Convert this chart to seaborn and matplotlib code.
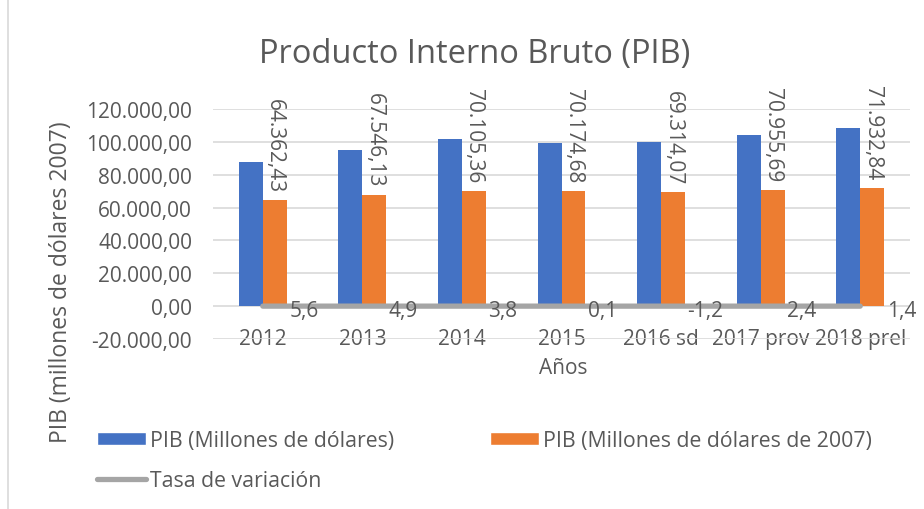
import numpy as np
import pandas as pd
import seaborn as sns
import matplotlib.pyplot as plt
from matplotlib.patches import Patch
from matplotlib.lines import Line2D

# Datos
anios = ['2012', '2013', '2014', '2015', '2016 sd', '2017 prov', '2018 prel']
pib_nominal = [87924.54, 94776.17, 101726.33, 99290.38, 99937.70, 104295.86, 108398.06]
pib_real = [64362.43, 67546.13, 70105.36, 70174.68, 69314.07, 70955.69, 71932.84]
tasa = [5.6, 4.9, 3.8, 0.1, -1.2, 2.4, 1.4]

serie_nom = 'PIB (Millones de dólares)'
serie_real = 'PIB (Millones de dólares de 2007)'
serie_tasa = 'Tasa de variación'

azul = '#4472c4'
naranja = '#ed7d31'
gris = '#a5a5a5'
texto = '#595959'


def fmt_es(v, dec=2):
    s = f"{v:,.{dec}f}"
    return s.replace(',', 'X').replace('.', ',').replace('X', '.')


df = pd.DataFrame({
    'anio': anios * 2,
    'valor': pib_nominal + pib_real,
    'serie': [serie_nom] * len(anios) + [serie_real] * len(anios),
})

sns.set_theme(style='white')
plt.rcParams['font.family'] = ['Open Sans', 'DejaVu Sans']

fig = plt.figure(figsize=(9.24, 5.10), dpi=100)
ax = fig.add_axes([213 / 924, 1 - 340 / 510, 697 / 924, 230 / 510])

sns.barplot(data=df, x='anio', y='valor', hue='serie', palette=[azul, naranja],
            saturation=1, width=0.48, gap=0, errorbar=None, legend=False, ax=ax,
            linewidth=0, edgecolor='none', zorder=2)

# Linea de tasa de variacion (en el mismo eje, queda casi en cero)
xs = np.arange(len(anios))
ax.plot(xs, tasa, color=gris, lw=3.8, solid_capstyle='round', zorder=3)
for x, t in zip(xs, tasa):
    ax.annotate(fmt_es(t, 1), (x, t), xytext=(19, -3), textcoords='offset points',
                ha='left', va='center', fontsize=15, color=texto, zorder=4)

# Etiquetas de las barras naranjas
for x, v in zip(xs, pib_real):
    ax.annotate(fmt_es(v), (x + 0.12, v), xytext=(0, 6), textcoords='offset points',
                rotation=270, ha='center', va='bottom', fontsize=15, color=texto,
                annotation_clip=False)

ax.set_ylim(-20000, 120000)
ax.set_xlim(-0.5, len(anios) - 0.5)
ax.set_yticks(np.arange(-20000, 120001, 20000))
ax.set_yticklabels([fmt_es(v) for v in np.arange(-20000, 120001, 20000)])
ax.yaxis.grid(True, color='#d9d9d9', lw=1.2, zorder=0)
ax.set_axisbelow(True)
for s in ax.spines.values():
    s.set_visible(False)
ax.tick_params(axis='y', length=0, pad=15, labelsize=15, labelcolor=texto)
ax.tick_params(axis='x', length=0, pad=0, labelsize=15, labelcolor=texto)
for lab in ax.get_xticklabels():
    lab.set_verticalalignment('center')
    lab.set_bbox(dict(facecolor='white', edgecolor='none', pad=1.0))

ax.set_xlabel('Años', fontsize=15, color=texto)
ax.xaxis.set_label_coords(0.502, -0.08)
ax.set_ylabel('')
fig.text(61 / 924, 1 - 282 / 510, 'PIB (millones de dólares 2007)', rotation=90,
         ha='center', va='center', fontsize=16.5, color=texto)

fig.text(475 / 924, 1 - 55 / 510, 'Producto Interno Bruto (PIB)', ha='center',
         va='center', fontsize=23.5, color=texto)

# Leyenda
h_nom = Patch(facecolor=azul, label=serie_nom)
h_real = Patch(facecolor=naranja, label=serie_real)
h_tasa = Line2D([0], [0], color=gris, lw=3.8, label=serie_tasa)
fig.legend(handles=[h_nom, h_tasa, h_real], ncol=2, loc='upper left',
           bbox_to_anchor=(78 / 924, 1 - 412 / 510), frameon=False, fontsize=15.3,
           handlelength=2.3, handleheight=0.6, handletextpad=0.2, columnspacing=4.5,
           labelspacing=0.9, labelcolor=texto)

# Borde izquierdo del grafico
fig.add_artist(Line2D([8 / 924, 8 / 924], [0, 1], color='#d9d9d9', lw=1.2))

fig.savefig('out.png', dpi=100)
